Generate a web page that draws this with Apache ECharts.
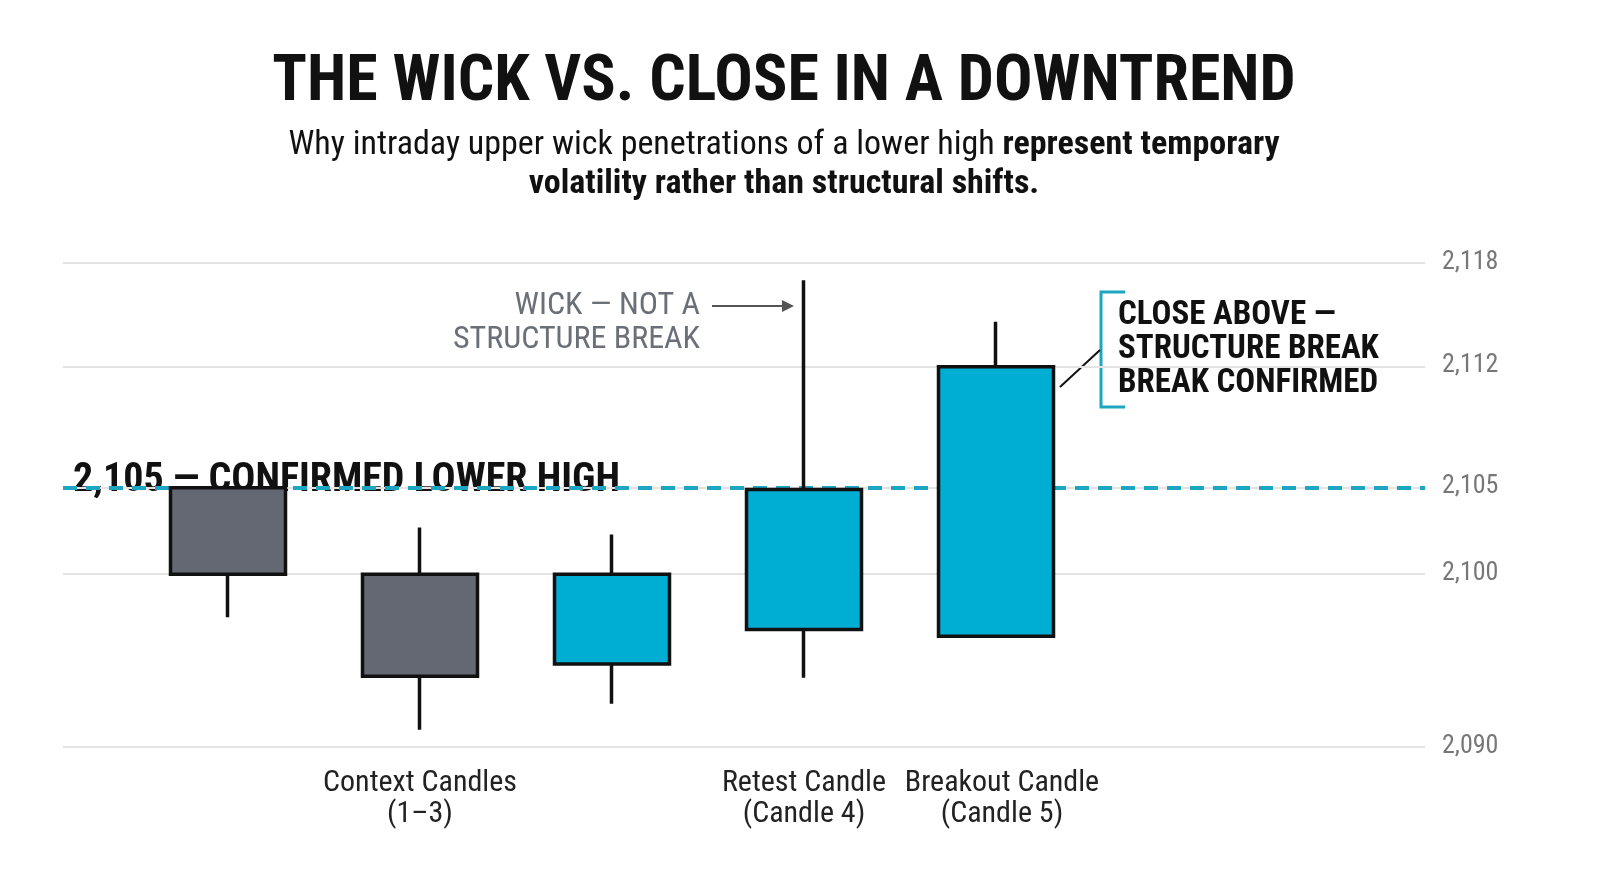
<!DOCTYPE html>
<html><head><meta charset="utf-8">
<script src="https://cdn.jsdelivr.net/npm/echarts@6/dist/echarts.min.js"></script>
<style>html,body{margin:0;background:#fff}#c{width:1600px;height:893px}</style>
</head><body><div id="c"></div>
<script>
const categories = ['C1','C2','C3','C4','C5','',''];
// [open, close, low, high]
const candles = [
  [2105, 2100, 2097.5, 2105],
  [2100, 2094.1, 2091, 2102.7],
  [2094.8, 2100, 2092.5, 2102.3],
  [2096.8, 2104.9, 2094, 2117],
  [2096.4, 2112, 2096.4, 2114.6]
];
const yTicks = [2090, 2100, 2105, 2112, 2118];
const lowerHigh = 2105;
const groupLabels = [
  {cat: 1, text: 'Context Candles\n(1–3)'},
  {cat: 3, text: 'Retest Candle\n(Candle 4)'},
  {cat: 4, text: 'Breakout Candle\n(Candle 5)', dx: 6}
];
const F = '"Liberation Sans Narrow","Roboto Condensed",Roboto,sans-serif';
const chart = echarts.init(document.getElementById('c'));
const gTop = 263, gBottom = 146;
chart.setOption({
  animation: false,
  grid: [
    {left: 132, right: 124, top: gTop, bottom: gBottom},
    {left: 63, right: 175, top: gTop, bottom: gBottom}
  ],
  xAxis: [
    {type: 'category', data: categories, gridIndex: 0, show: false},
    {type: 'value', gridIndex: 1, min: 0, max: 1, show: false}
  ],
  yAxis: [
    {type: 'value', gridIndex: 0, min: 2090, max: 2118, show: false},
    {type: 'value', gridIndex: 1, min: 2090, max: 2118, position: 'right',
     axisLine: {show: false}, axisTick: {show: false},
     splitLine: {show: false},
     axisLabel: {show: false}}
  ],
  series: [
    {type: 'line', xAxisIndex: 1, yAxisIndex: 1, data: [], z: 1,
     markLine: {silent: true, symbol: 'none', label: {show: false},
       lineStyle: {color: '#e3e3e3', width: 2, type: 'solid'},
       data: yTicks.map(v => ({yAxis: v}))}},
    {type: 'line', xAxisIndex: 1, yAxisIndex: 1, data: [], z: 2,
     markLine: {silent: true, symbol: 'none', label: {show: false},
       lineStyle: {color: '#1ea5c2', width: 4, type: [14, 9]},
       data: [{yAxis: lowerHigh}]}},
    {type: 'candlestick', xAxisIndex: 0, yAxisIndex: 0, data: candles, barWidth: 115, z: 5,
     itemStyle: {color: '#00aed4', color0: '#636873', borderColor: '#111', borderColor0: '#111', borderWidth: 3.5}}
  ]
});
const g = [];
const y1 = v => chart.convertToPixel({yAxisIndex: 1}, v);
const xc = c => chart.convertToPixel({xAxisIndex: 0}, c);
yTicks.forEach(v => g.push({type: 'text', left: 1442, top: y1(v) - 14,
  style: {text: v.toLocaleString('en-US'), font: '26px ' + F, fill: '#777'}}));
groupLabels.forEach(l => g.push({type: 'text', x: xc(l.cat) + (l.dx || 0), y: 768,
  style: {text: l.text, font: '30px ' + F, fill: '#222', align: 'center', lineHeight: 31}}));
g.push(
  {type: 'text', x: 784, y: 52, style: {text: 'THE WICK VS. CLOSE IN A DOWNTREND', font: 'bold 64px ' + F, fill: '#111', align: 'center'}},
  {type: 'text', x: 784, y: 128, style: {rich: {r: {font: '34px ' + F, fill: '#111'}, b: {font: 'bold 34px ' + F, fill: '#111'}},
    text: '{r|Why intraday upper wick penetrations of a lower high }{b|represent temporary}', align: 'center'}},
  {type: 'text', x: 784, y: 167, style: {text: 'volatility rather than structural shifts.', font: 'bold 34px ' + F, fill: '#111', align: 'center'}},
  {type: 'text', x: 73, y: 461, style: {text: '2,105 — CONFIRMED LOWER HIGH', font: 'bold 40px ' + F, fill: '#111'}},
  {type: 'text', x: 700, y: 289, style: {text: 'WICK — NOT A\nSTRUCTURE BREAK', font: '32px ' + F, fill: '#6b6f78', align: 'right', lineHeight: 34}},
  {type: 'line', shape: {x1: 712, y1: 306, x2: 790, y2: 306}, style: {stroke: '#555', lineWidth: 2}},
  {type: 'polygon', shape: {points: [[794, 306], [782, 300], [782, 312]]}, style: {fill: '#555'}},
  {type: 'text', x: 1118, y: 299, style: {text: 'CLOSE ABOVE —\nSTRUCTURE BREAK\nBREAK CONFIRMED', font: 'bold 33px ' + F, fill: '#111', lineHeight: 34}},
  {type: 'polyline', shape: {points: [[1125, 292], [1101, 292], [1101, 407], [1125, 407]]}, style: {stroke: '#1ea5c2', lineWidth: 3, fill: null}},
  {type: 'line', shape: {x1: 1060, y1: 387, x2: 1100, y2: 350}, style: {stroke: '#111', lineWidth: 2}}
);
chart.setOption({graphic: g});
</script></body></html>
